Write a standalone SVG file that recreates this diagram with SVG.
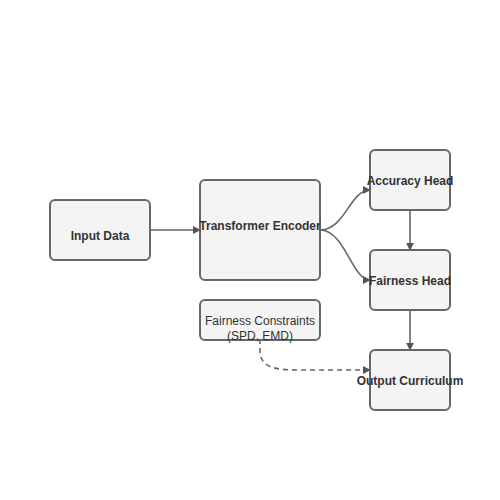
<svg xmlns="http://www.w3.org/2000/svg" width="500" height="500" viewBox="0 0 500 500">
<defs>
<style>
.node rect{fill:#f4f4f4;stroke:#666;stroke-width:2}
.lbl{font-family:"Liberation Sans",Arial,sans-serif;font-size:12px;font-weight:bold;fill:#333;text-anchor:middle}
.lbl2{font-family:"Liberation Sans",Arial,sans-serif;font-size:12px;fill:#333;text-anchor:middle}
.edge{fill:none;stroke:#666;stroke-width:1.6}
.dash{stroke-dasharray:5,4}
</style>
<marker id="arr" viewBox="0 0 10 10" refX="9" refY="5" markerWidth="5" markerHeight="5" orient="auto" markerUnits="strokeWidth">
<path d="M0,0 L10,5 L0,10 Z" fill="#555"/>
</marker>
</defs>
<rect width="500" height="500" fill="#fff"/>
<g id="connectors">
<path class="edge" d="M150,230 L200,230" marker-end="url(#arr)"/>
<path class="edge" d="M320,230 C345,230 350,190 370,190" marker-end="url(#arr)"/>
<path class="edge" d="M320,230 C345,230 352,280 370,280" marker-end="url(#arr)"/>
<path class="edge" d="M410,210 L410,250" marker-end="url(#arr)"/>
<path class="edge" d="M410,310 L410,350" marker-end="url(#arr)"/>
<path class="edge dash" d="M260,330 L260,350 C260,368 275,370 300,370 L370,370" marker-end="url(#arr)"/>
</g>
<g id="input" class="node"><rect x="50" y="200" width="100" height="60" rx="5"/><text class="lbl" x="100" y="240">Input Data</text></g>
<g id="encoder" class="node"><rect x="200" y="180" width="120" height="100" rx="5"/><text class="lbl" x="260" y="230">Transformer Encoder</text></g>
<g id="accuracy" class="node"><rect x="370" y="150" width="80" height="60" rx="5"/><text class="lbl" x="410" y="185">Accuracy Head</text></g>
<g id="fairness" class="node"><rect x="370" y="250" width="80" height="60" rx="5"/><text class="lbl" x="410" y="285">Fairness Head</text></g>
<g id="constraints" class="node"><rect x="200" y="300" width="120" height="40" rx="5"/><text class="lbl2" x="260" y="325">Fairness Constraints</text><text class="lbl2" x="260" y="340">(SPD, EMD)</text></g>
<g id="output" class="node"><rect x="370" y="350" width="80" height="60" rx="5"/><text class="lbl" x="410" y="385">Output Curriculum</text></g>
</svg>
